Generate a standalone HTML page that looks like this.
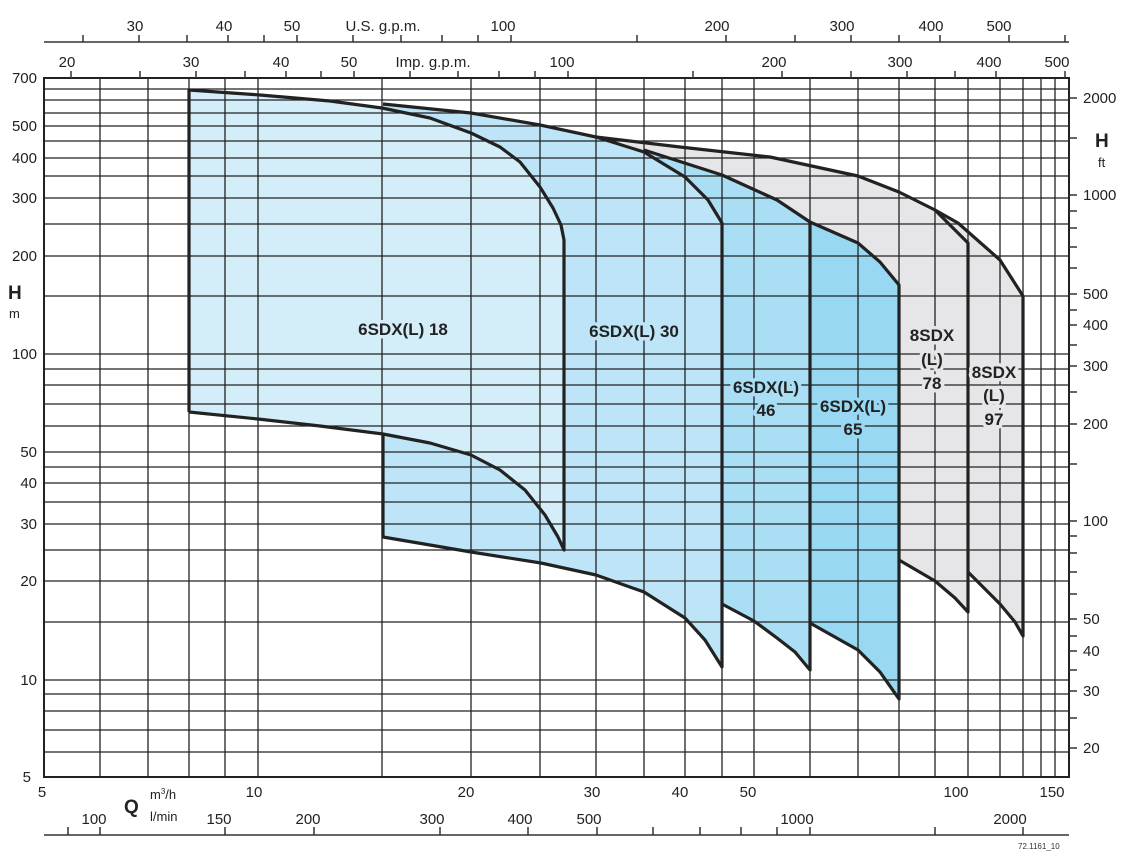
<!DOCTYPE html>
<html><head><meta charset="utf-8"><style>
html,body{margin:0;padding:0;background:#fff;}
svg{display:block;font-family:"Liberation Sans",Arial,sans-serif;}
.t{font-size:15px;fill:#222;}
.lb{font-size:17px;font-weight:bold;fill:#222;paint-order:stroke;stroke-width:7px;stroke-linejoin:round;}
</style></head><body>
<svg width="1128" height="865" viewBox="0 0 1128 865" xmlns="http://www.w3.org/2000/svg">
<g fill-rule="nonzero">
<polygon fill="#e6e6e8" points="935,210 958,223 1000,260 1023,296 1023,636 1015,622 1000,604 968,572 968,243"/>
<polygon fill="#e6e6e8" points="596,137 680,147 770,157 858,176 899,192 935,210 968,243 968,612 955,598 935,581 899,560 899,285 810,222"/>
<polygon fill="#bde5f7" points="383,104 471,113 540,125 596,137 644,152 685,177 708,200 722,223 722,667 705,640 685,618 644,592 596,575 541,563 471,552 383,537"/>
<polygon fill="#a9def5" points="596,137 644,150 722,175 777,200 810,222 810,670 795,652 777,638 754,621 722,604 722,223 708,200 685,177 644,152"/>
<polygon fill="#98d8f2" points="810,222 858,243 880,262 899,285 899,699 880,672 858,650 810,623"/>
<polygon fill="#d3edf9" points="189,90 260,95 330,101 382,108 430,118 471,133 500,147 520,162 540,187 553,208 561,225 564,240 564,550 558,537 545,515 525,490 500,470 471,455 430,443 383,434 320,426 258,419 189,412"/>
</g>
<g stroke="#222" stroke-width="1.3" fill="none">
<path d="M44,89H1069M44,100H1069M44,113H1069M44,126H1069M44,141H1069M44,158H1069M44,176H1069M44,198H1069M44,224H1069M44,256H1069M44,296H1069M44,354H1069M44,369H1069M44,385H1069M44,404H1069M44,426H1069M44,452H1069M44,467H1069M44,483H1069M44,502H1069M44,524H1069M44,550H1069M44,581H1069M44,622H1069M44,680H1069M44,694H1069M44,711H1069M44,730H1069M44,752H1069"/>
<path d="M100,78V777M148,78V777M189,78V777M225,78V777M258,78V777M382,78V777M471,78V777M540,78V777M596,78V777M644,78V777M685,78V777M722,78V777M754,78V777M810,78V777M858,78V777M899,78V777M935,78V777M968,78V777M1000,78V777M1023,78V777M1041,78V777M1055,78V777"/>
</g>
<rect x="44" y="78" width="1025" height="699" fill="none" stroke="#222" stroke-width="2"/>
<g stroke="#222" stroke-width="3.2" fill="none" stroke-linejoin="round">
<polyline points="189,412 189,90 260,95 330,101 382,108 430,118 471,133 500,147 520,162 540,187 553,208 561,225 564,240 564,550 558,537 545,515 525,490 500,470 471,455 430,443 383,434 320,426 258,419 189,412"/>
<polyline points="383,434 383,537 471,552 541,563 596,575 644,592 685,618 705,640 722,667 722,223 708,200 685,177 644,152 596,137 540,125 471,113 383,104"/>
<polyline points="644,150 722,175 777,200 810,222 810,670 795,652 777,638 754,621 722,604"/>
<polyline points="810,222 858,243 880,262 899,285 899,699 880,672 858,650 810,623"/>
<polyline points="596,137 680,147 770,157 858,176 899,192 935,210 968,243 968,612 955,598 935,581 899,560"/>
<polyline points="935,210 958,223 1000,260 1023,296 1023,636 1015,622 1000,604 968,572"/>
</g>
<text class="lb" x="403" y="335" text-anchor="middle" stroke="#d3edf9">6SDX(L) 18</text>
<text class="lb" x="634" y="337" text-anchor="middle" stroke="#bde5f7">6SDX(L) 30</text>
<text class="lb" x="766" y="393" text-anchor="middle" stroke="#a9def5">6SDX(L)</text>
<text class="lb" x="766" y="416" text-anchor="middle" stroke="#a9def5">46</text>
<text class="lb" x="853" y="412" text-anchor="middle" stroke="#98d8f2">6SDX(L)</text>
<text class="lb" x="853" y="435" text-anchor="middle" stroke="#98d8f2">65</text>
<text class="lb" x="932" y="341" text-anchor="middle" stroke="#e6e6e8">8SDX</text>
<text class="lb" x="932" y="365" text-anchor="middle" stroke="#e6e6e8">(L)</text>
<text class="lb" x="932" y="389" text-anchor="middle" stroke="#e6e6e8">78</text>
<text class="lb" x="994" y="378" text-anchor="middle" stroke="#e6e6e8">8SDX</text>
<text class="lb" x="994" y="401" text-anchor="middle" stroke="#e6e6e8">(L)</text>
<text class="lb" x="994" y="425" text-anchor="middle" stroke="#e6e6e8">97</text>
<g stroke="#333" stroke-width="1.5">
<line x1="44" y1="42" x2="1069" y2="42"/>
<path d="M83,42V35M139,42V35M187,42V35M228,42V35M264,42V35M297,42V35M353,42V35M401,42V35M442,42V35M478,42V35M511,42V35M637,42V35M726,42V35M795,42V35M851,42V35M899,42V35M940,42V35M1009,42V35M1065,42V35"/>
<path d="M71,78V71M140,78V71M196,78V71M245,78V71M286,78V71M321,78V71M354,78V71M410,78V71M458,78V71M499,78V71M535,78V71M568,78V71M693,78V71M782,78V71M851,78V71M907,78V71M955,78V71M996,78V71M1065,78V71"/>
<path d="M68,835V827M100,835V827M225,835V827M314,835V827M440,835V827M528,835V827M597,835V827M653,835V827M700,835V827M741,835V827M777,835V827M810,835V827M935,835V827M1023,835V827"/>
<line x1="44" y1="835" x2="1069" y2="835"/>
<path d="M1069,98H1077M1069,138H1077M1069,195H1077M1069,211H1077M1069,228H1077M1069,247H1077M1069,268H1077M1069,294H1077M1069,310H1077M1069,325H1077M1069,345H1077M1069,366H1077M1069,392H1077M1069,424H1077M1069,464H1077M1069,521H1077M1069,536H1077M1069,553H1077M1069,572H1077M1069,594H1077M1069,619H1077M1069,636H1077M1069,651H1077M1069,670H1077M1069,691H1077M1069,718H1077M1069,748H1077"/>
</g>
<g class="t" text-anchor="middle">
<text x="135" y="31">30</text><text x="224" y="31">40</text><text x="292" y="31">50</text>
<text x="383" y="31">U.S. g.p.m.</text><text x="503" y="31">100</text><text x="717" y="31">200</text>
<text x="842" y="31">300</text><text x="931" y="31">400</text><text x="999" y="31">500</text>
<text x="67" y="67">20</text><text x="191" y="67">30</text><text x="281" y="67">40</text><text x="349" y="67">50</text>
<text x="433" y="67">Imp. g.p.m.</text><text x="562" y="67">100</text><text x="774" y="67">200</text>
<text x="900" y="67">300</text><text x="989" y="67">400</text><text x="1057" y="67">500</text>
<text x="42" y="797">5</text><text x="254" y="797">10</text><text x="466" y="797">20</text>
<text x="592" y="797">30</text><text x="680" y="797">40</text><text x="748" y="797">50</text>
<text x="956" y="797">100</text><text x="1052" y="797">150</text>
<text x="94" y="824">100</text><text x="219" y="824">150</text><text x="308" y="824">200</text>
<text x="432" y="824">300</text><text x="520" y="824">400</text><text x="589" y="824">500</text>
<text x="797" y="824">1000</text><text x="1010" y="824">2000</text>
</g>
<g class="t" text-anchor="end">
<text x="37" y="83">700</text><text x="37" y="131">500</text><text x="37" y="163">400</text>
<text x="37" y="203">300</text><text x="37" y="261">200</text><text x="37" y="359">100</text>
<text x="37" y="457">50</text><text x="37" y="488">40</text><text x="37" y="529">30</text>
<text x="37" y="586">20</text><text x="37" y="685">10</text><text x="31" y="782">5</text>
</g>
<g class="t">
<text x="1083" y="103">2000</text><text x="1083" y="200">1000</text><text x="1083" y="299">500</text>
<text x="1083" y="330">400</text><text x="1083" y="371">300</text><text x="1083" y="429">200</text>
<text x="1083" y="526">100</text><text x="1083" y="624">50</text><text x="1083" y="656">40</text>
<text x="1083" y="696">30</text><text x="1083" y="753">20</text>
<text x="150" y="799" font-size="13">m<tspan font-size="8" dy="-5">3</tspan><tspan dy="5">/h</tspan></text>
<text x="150" y="821" font-size="13">l/min</text>
</g>
<text x="8" y="299" font-size="19" font-weight="bold" fill="#222">H</text>
<text x="9" y="318" font-size="13" fill="#222">m</text>
<text x="1095" y="147" font-size="19" font-weight="bold" fill="#222">H</text>
<text x="1098" y="167" font-size="13" fill="#222">ft</text>
<text x="124" y="813" font-size="19" font-weight="bold" fill="#222">Q</text>
<text x="1018" y="849" font-size="8" fill="#333">72.1161_10</text>
</svg>
</body></html>
